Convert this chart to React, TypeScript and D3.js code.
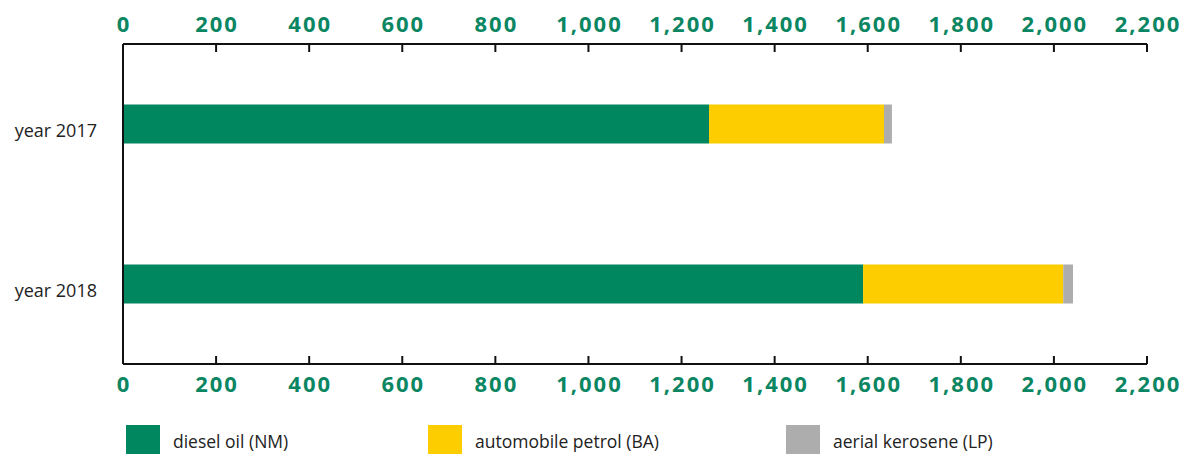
import React from "react";
import * as d3 from "d3";

const categories = ["year 2017", "year 2018"];
const seriesNames = ["diesel oil (NM)", "automobile petrol (BA)", "aerial kerosene (LP)"];
const diesel = [1259, 1590];
const petrol = [376, 430];
const kerosene = [17, 21];
const xTicks = [0, 200, 400, 600, 800, 1000, 1200, 1400, 1600, 1800, 2000, 2200];
const colors = ["#00875F", "#FDCD00", "#ADADAD"];

export default function App() {
  const W = 1181, H = 454;
  const left = 123, right = 1147, top = 44, bottom = 364;
  const x = d3.scaleLinear().domain([0, 2200]).range([left, right]);
  const y = d3.scalePoint<string>().domain(categories).range([top, bottom]).padding(0.5);
  const barH = 39;
  const series = [diesel, petrol, kerosene];
  const stacked = categories.map((c, i) => {
    let acc = 0;
    return series.map((s, k) => {
      const x0 = acc;
      acc += s[i];
      return { k, x0, x1: acc, cat: c };
    });
  });
  const fmt = d3.format(",");
  const tickFont = { fontFamily: "'Open Sans', sans-serif", fontWeight: 700, fontSize: 22, fill: "#0B8662", letterSpacing: 2 };
  const labelFont = { fontFamily: "'Open Sans', sans-serif", fontSize: 18, fill: "#222" };
  const legendFont = { fontFamily: "'Open Sans', sans-serif", fontSize: 17.5, fill: "#222" };
  const legendX = [126, 428, 786];
  return (
    <svg width={W} height={H} style={{ position: "absolute", left: 0, top: 0 }}>
      {stacked.map((row) =>
        row.map((seg) => (
          <rect key={seg.cat + seg.k} x={x(seg.x0)} width={x(seg.x1) - x(seg.x0)}
            y={(y(seg.cat) as number) - barH / 2} height={barH} fill={colors[seg.k]} />
        ))
      )}
      <g stroke="#111" strokeWidth={2} fill="none">
        <line x1={left} x2={right} y1={top} y2={top} />
        <line x1={left} x2={right} y1={bottom} y2={bottom} />
        <line x1={left} x2={left} y1={top} y2={bottom} />
        {xTicks.map((t) => (
          <g key={t}>
            <line x1={x(t)} x2={x(t)} y1={top} y2={top + 8} />
            <line x1={x(t)} x2={x(t)} y1={bottom} y2={bottom - 8} />
          </g>
        ))}
      </g>
      {xTicks.map((t) => (
        <g key={"l" + t}>
          <text x={x(t) + 1} y={32} textAnchor="middle" style={tickFont}>{fmt(t)}</text>
          <text x={x(t) + 1} y={392} textAnchor="middle" style={tickFont}>{fmt(t)}</text>
        </g>
      ))}
      {categories.map((c) => (
        <text key={c} x={97} y={(y(c) as number) + 13} textAnchor="end" style={labelFont}>{c}</text>
      ))}
      {seriesNames.map((n, i) => (
        <g key={n}>
          <rect x={legendX[i]} y={425} width={34} height={29} fill={colors[i]} />
          <text x={legendX[i] + 47} y={448} style={legendFont}>{n}</text>
        </g>
      ))}
    </svg>
  );
}
